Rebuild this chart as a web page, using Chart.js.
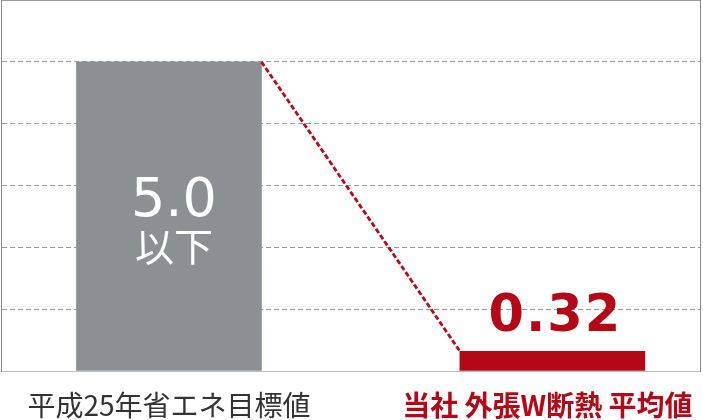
<!DOCTYPE html>
<html lang="ja">
<head>
<meta charset="UTF-8">
<title>外張W断熱 比較</title>
<script src="https://cdn.jsdelivr.net/npm/chart.js@4.4.0/dist/chart.umd.min.js"></script>
<style>
*{box-sizing:border-box;margin:0;padding:0}
html,body{background:#fff;width:703px;height:420px;overflow:hidden}
.cw{position:relative;width:703px;height:420px}
</style>
</head>
<body>
<div class="cw"><canvas id="c"></canvas></div>
<script>
// data
const categories = ["平成25年省エネ目標値", "当社 外張W断熱 平均値"];
const values = [5.0, 0.32];
const valueLabels = ["5.0", "0.32"];
const subLabels = ["以下", ""];
const barColors = ["#8c9093", "#b40816"];
const labelColors = ["#333333", "#b40816"];
const yMin = 0, yMax = 6, yStep = 1;

const jp = '"Noto Sans CJK JP", sans-serif';
const gridColor = "#9a9a9a", frameColor = "#8a8a8a";

// connector line, value labels and category labels, placed from the drawn bars / x scale
const barText = {
  id: "barText",
  afterDatasetsDraw(chart) {
    const ctx = chart.ctx;
    const xs = chart.scales.x;
    const area = chart.chartArea;
    const bars = chart.getDatasetMeta(0).data;
    const a = bars[0], b = bars[1];
    ctx.save();
    ctx.strokeStyle = "#b8081a";
    ctx.lineWidth = 2.8;
    ctx.setLineDash([5, 2.5]);
    ctx.beginPath();
    ctx.moveTo(a.x + a.width / 2, a.y);
    ctx.lineTo(b.x - b.width / 2, b.y);
    ctx.stroke();
    ctx.setLineDash([]);

    ctx.textAlign = "center";
    ctx.textBaseline = "alphabetic";
    // gray bar: white text inside
    const mid = (a.y + a.base) / 2;
    ctx.fillStyle = "#fff";
    ctx.font = '54px "DejaVu Sans", sans-serif';
    ctx.fillText(valueLabels[0], a.x + 5, mid);
    ctx.font = "39px " + jp;
    ctx.textBaseline = "middle";
    ctx.fillText(subLabels[0], a.x + 5, mid + 30);
    // red bar: label above
    ctx.textBaseline = "alphabetic";
    ctx.fillStyle = barColors[1];
    ctx.font = 'bold 51px "DejaVu Sans", sans-serif';
    ctx.letterSpacing = "2px";
    ctx.fillText(valueLabels[1], b.x + 3, b.y - 20);
    ctx.letterSpacing = "0px";

    // category labels under the axis
    ctx.textBaseline = "middle";
    categories.forEach((c, i) => {
      ctx.fillStyle = labelColors[i];
      ctx.font = (i === 1 ? "bold " : "") + "28px " + jp;
      ctx.fillText(c, xs.getPixelForValue(i) + (i === 1 ? -5 : 0), area.bottom + 34);
    });
    ctx.restore();
  }
};

new Chart(document.getElementById("c"), {
  type: "bar",
  data: {
    datasets: [{
      data: values.map((v, i) => ({ x: i, y: v })),
      backgroundColor: barColors,
      borderWidth: 0,
      barThickness: 185
    }]
  },
  options: {
    responsive: true, maintainAspectRatio: false, animation: false,
    layout: { padding: { left: 1, right: 3, top: 0, bottom: 49 } },
    plugins: { legend: { display: false }, tooltip: { enabled: false } },
    scales: {
      x: {
        type: "linear", min: -0.438, max: 1.385, offset: false,
        grid: { display: false, drawTicks: false, offset: false },
        border: { display: false },
        ticks: { display: false }
      },
      y: {
        min: yMin, max: yMax,
        ticks: { display: false, stepSize: yStep },
        grid: {
          drawTicks: false,
          color: c => c.tick && c.tick.value === yMin ? "#bdbdbd" : gridColor,
          lineWidth: 1
        },
        border: {
          display: true, color: frameColor, width: 1,
          dash: c => (c.tick && (c.tick.value === yMin || c.tick.value === yMax)) ? [] : [5, 3]
        }
      },
      yR: {
        position: "right", min: yMin, max: yMax,
        ticks: { display: false },
        grid: { display: false, drawTicks: false },
        border: { display: true, color: frameColor, width: 1 }
      }
    }
  },
  plugins: [barText]
});
</script>
</body>
</html>
